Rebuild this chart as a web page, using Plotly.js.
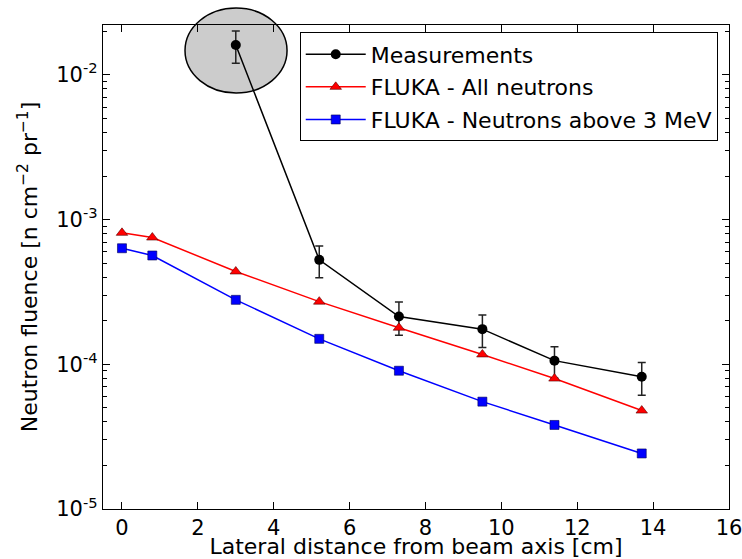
<!DOCTYPE html>
<html>
<head>
<meta charset="utf-8">
<script src="https://cdn.plot.ly/plotly-3.0.1.min.js"></script>
<style>html,body{margin:0;padding:0;background:#fff;}#chart{width:742px;height:559px;}</style>
</head>
<body>
<div id="chart"></div>
<script>
// Measurements
var measX = [3, 5.2, 7.3, 9.5, 11.4, 13.7];
var measY = [0.0161, 5.27e-4, 2.14e-4, 1.75e-4, 1.06e-4, 8.2e-5];
var measErr = [0.00405, 1.3e-4, 5.5e-5, 4.45e-5, 2.6e-5, 2.1e-5];
// FLUKA - All neutrons
var allX = [0, 0.8, 3, 5.2, 7.3, 9.5, 11.4, 13.7];
var allY = [8.1e-4, 7.52e-4, 4.38e-4, 2.71e-4, 1.79e-4, 1.17e-4, 7.97e-5, 4.79e-5];
// FLUKA - Neutrons above 3 MeV
var hiX = [0, 0.8, 3, 5.2, 7.3, 9.5, 11.4, 13.7];
var hiY = [6.34e-4, 5.65e-4, 2.79e-4, 1.50e-4, 9.03e-5, 5.52e-5, 3.81e-5, 2.42e-5];
// tick labels
var xTicks = [0, 2, 4, 6, 8, 10, 12, 14, 16];
var yTickVals = [1e-5, 1e-4, 1e-3, 1e-2];
var yTickText = ['10<sup>-5</sup>', '10<sup>-4</sup>', '10<sup>-3</sup>', '10<sup>-2</sup>'];

var font = 'DejaVu Sans, sans-serif';
var fs = 22;
var tfs = 21;

var traces = [
  {
    x: measX, y: measY, name: 'Measurements', type: 'scatter', mode: 'lines+markers',
    legendgroup: 'a',
    line: {color: '#000000', width: 1.5},
    marker: {symbol: 'circle', size: 10, color: '#000000'},
    error_y: {type: 'data', array: measErr, visible: true, color: '#222222', thickness: 1.5, width: 4}
  },
  {
    x: allX, y: allY, name: 'FLUKA - All neutrons', type: 'scatter', mode: 'lines+markers',
    legendgroup: 'b',
    line: {color: '#ff0000', width: 1.5},
    marker: {symbol: 'triangle-up', size: 10, color: '#ff0000', line: {color: '#550000', width: 0.6}}
  },
  {
    x: hiX, y: hiY, name: 'FLUKA - Neutrons above 3 MeV', type: 'scatter', mode: 'lines+markers',
    legendgroup: 'c',
    line: {color: '#0000ff', width: 1.5},
    marker: {symbol: 'square', size: 9, color: '#0000ff', line: {color: '#000055', width: 0.6}}
  }
];

var layout = {
  width: 742, height: 559,
  margin: {l: 103, r: 13, t: 25, b: 50},
  paper_bgcolor: '#ffffff', plot_bgcolor: '#ffffff',
  font: {family: font, size: fs, color: '#000'},
  showlegend: true,
  legend: {
    x: 0.982, y: 0.872, xanchor: 'right', yanchor: 'middle',
    bordercolor: '#000', borderwidth: 1, bgcolor: '#ffffff',
    font: {family: font, size: fs, color: '#000'},
    traceorder: 'grouped', tracegroupgap: 1, itemwidth: 60
  },
  xaxis: {
    range: [-0.5, 16], tickvals: xTicks, ticks: 'inside', ticklen: 7, tickwidth: 1,
    tickcolor: '#000', showline: true, linecolor: '#000', linewidth: 1.2, mirror: 'ticks',
    showgrid: false, zeroline: false, tickfont: {family: font, size: tfs},
    ticklabeloverflow: 'allow',
    title: {text: 'Lateral distance from beam axis [cm]', font: {family: font, size: fs}, standoff: 5}
  },
  yaxis: {
    type: 'log', range: [-5, -1.655], tickvals: yTickVals, ticktext: yTickText,
    ticks: 'inside', ticklen: 7, tickwidth: 1, tickcolor: '#000',
    minor: {dtick: 'D1', ticks: 'inside', ticklen: 4, tickcolor: '#000', tickwidth: 1, showgrid: false},
    showline: true, linecolor: '#000', linewidth: 1.2, mirror: 'ticks',
    showgrid: false, zeroline: false, tickfont: {family: font, size: tfs},
    title: {text: 'Neutron fluence [n cm<sup>\u22122</sup> pr<sup>\u22121</sup>]', font: {family: font, size: fs}, standoff: 12}
  },
  shapes: [
    {type: 'circle', xref: 'paper', yref: 'paper', x0: 0.131, x1: 0.294, y0: 0.8595, y1: 1.035,
     fillcolor: '#cccccc', line: {color: '#000', width: 1.5}, layer: 'below'}
  ]
};

Plotly.newPlot('chart', traces, layout, {displayModeBar: false, staticPlot: true});
</script>
</body>
</html>
